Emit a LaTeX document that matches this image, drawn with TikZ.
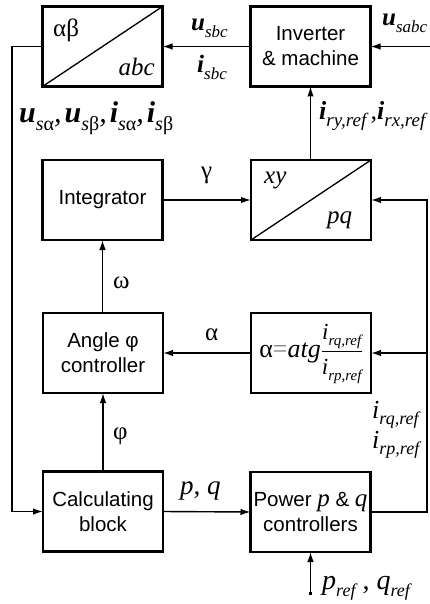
\documentclass[tikz,border=0pt]{standalone}
\usepackage{amsmath}
\usepackage{fontspec}
\setmainfont{Liberation Serif}
\newfontfamily\arialf{Liberation Sans}
\usetikzlibrary{arrows.meta}
\newcommand\Lsub[3][18]{#2\raisebox{-0.25em}{\fontsize{#1}{#1}\selectfont\itshape #3}}
\newcommand\Bsub[3][16]{\textbf{\textit{#2}}\raisebox{-0.25em}{\fontsize{#1}{#1}\selectfont\itshape #3}}
\newcommand\Gup[1]{\textup{#1}}
\begin{document}
\begin{tikzpicture}[x=1pt,y=-1pt,
  blk/.style={draw,line width=2.3pt,minimum width=120pt,minimum height=80pt,inner sep=0pt,outer sep=0pt,
    font=\arialf\fontsize{20.5}{25}\selectfont,align=center},
  arr/.style={line width=1.4pt,-{Latex[length=10pt,width=6.5pt]}},
  lab/.style={inner sep=0pt,anchor=base west,font=\fontsize{24}{26}\selectfont\itshape},
  glab/.style={inner sep=0pt,anchor=base west,font=\fontsize{25}{26}\selectfont},
  diag/.style={line width=1.3pt}]
\useasboundingbox (0,0) rectangle (430,604);
% blocks
\node[blk] (ab) at (102.5,46.5) {};
\node[blk] (inv) at (310.5,46.5) {Inverter\\\& machine};
\node[blk] (integ) at (102.5,200) {Integrator};
\node[blk] (xy) at (311,200) {};
\node[blk] (ang) at (103,353) {Angle φ\\controller};
\node[blk] (alpha) at (311,353) {};
\node[blk] (calc) at (103,511.5) {Calculating\\block};
\node[blk] (pow) at (310.5,512) {Power {\rmfamily\itshape\fontsize{25}{25}\selectfont p} \& {\rmfamily\itshape\fontsize{25}{25}\selectfont q}\\controllers};
% diagonals
\draw[diag] (ab.south west) -- (ab.north east);
\draw[diag] (xy.south west) -- (xy.north east);
\node[glab] (abt) at (53,37) {αβ};
\node[lab,anchor=base east,font=\fontsize{25}{26}\selectfont\itshape] (abct) at (155,76) {abc};
\node[lab,font=\fontsize{25}{26}\selectfont\itshape] (xyt) at (264,183) {xy};
\node[lab,font=\fontsize{25}{26}\selectfont\itshape] (pqt) at (327,223) {pq};
% formula
\node[inner sep=0pt,font=\fontsize{26}{28}\selectfont] (form) at (311,354)
  {α{\color{gray}=}\textit{atg}$\genfrac{}{}{0.7pt}{0}{\mbox{\fontsize{23}{23}\selectfont\Lsub[15]{\textit{i}}{rq,ref}}}{\mbox{\fontsize{23}{23}\selectfont\Lsub[15]{\textit{i}}{rp,ref}}}$};
% coordinates
\coordinate (uin) at (430,46.5);
\coordinate (lft) at (12,280);
\coordinate (rtop) at (427,200);
\coordinate (pref) at (310.5,595);
% connectors
\draw[arr] (inv.west) -- (ab.east);
\draw[arr] (uin) -- (inv.east);
\draw[arr] (ab.west) -| (lft) |- (calc.west);
\draw[arr] (xy.north -| inv.south) -- (inv.south);
\draw[arr] (integ.east) -- (xy.west);
\draw[arr] (ang.north -| integ.south) -- (integ.south);
\draw[arr] (alpha.west) -- (ang.east);
\draw[arr] (calc.north) -- (ang.south);
\draw[arr] (calc.east) -- (pow.west);
\draw[arr] (pow.east) -| (rtop) -- (xy.east);
\draw[arr] (alpha.east -| rtop) -- (alpha.east);
\draw[line width=1.4pt,{Square[length=3.5pt,width=3.5pt]}-{Latex[length=10pt,width=6.5pt]}] (pref) -- (pow.south);
% labels
\node[lab,font=\fontsize{25}{26}\selectfont\itshape] (lusbc) at (191,31) {\Bsub[17]{u}{sbc}};
\node[lab,font=\fontsize{25}{26}\selectfont\itshape] (lisbc) at (197,73) {\Bsub[17]{i}{sbc}};
\node[lab,font=\fontsize{25}{26}\selectfont\itshape] (lusabc) at (382,26) {\Bsub[17]{u}{sabc}};
\node[lab,font=\fontsize{30}{30}\selectfont\itshape] (lus) at (19,123) {\Bsub[20]{u}{s\Gup{α}},\hspace{3pt}\Bsub[20]{u}{s\Gup{β}},\hspace{3pt}\Bsub[20]{i}{s\Gup{α}},\hspace{3pt}\Bsub[20]{i}{s\Gup{β}}};
\node[lab,font=\fontsize{26}{28}\selectfont\itshape] (liry) at (319,120) {\Bsub[19]{i}{ry,ref}\,,\Bsub[19]{i}{rx,ref}};
\node[glab] (lg) at (201,178) {γ};
\node[glab] (lw) at (113,288) {ω};
\node[glab] (la) at (205,340) {α};
\node[glab] (lf) at (113,439) {φ};
\node[lab,font=\fontsize{27}{28}\selectfont\itshape] (lpq) at (180,494) {p, q};
\node[lab,font=\fontsize{26}{28}\selectfont\itshape] (lirq) at (372,418) {\Lsub[18]{i}{rq,ref}};
\node[lab,font=\fontsize{26}{28}\selectfont\itshape] (lirp) at (372,448) {\Lsub[18]{i}{rp,ref}};
\node[lab,font=\fontsize{28}{28}\selectfont\itshape] (lpref) at (322,589) {\Lsub[18]{p}{ref}\ ,\ \Lsub[18]{q}{ref}};
\end{tikzpicture}
\end{document}
